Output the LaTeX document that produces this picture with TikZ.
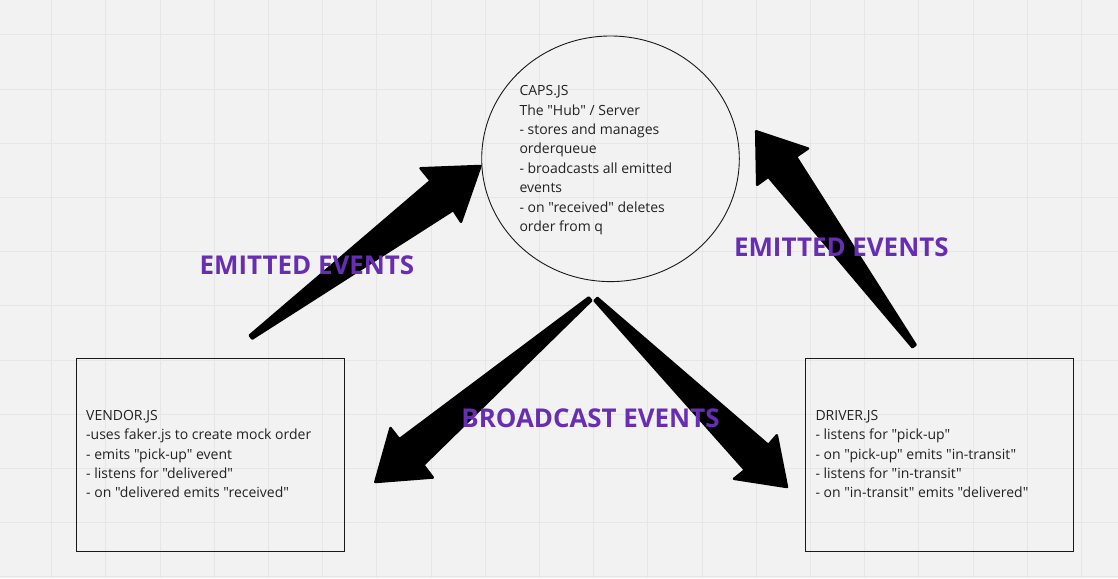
\documentclass[tikz,border=0pt]{standalone}
\usepackage{fontspec}
\setmainfont{Open Sans}[Ligatures=TeXOff]
\usetikzlibrary{shapes.geometric}
\definecolor{bgc}{HTML}{F2F2F2}
\definecolor{gridc}{HTML}{E6E6E6}
\definecolor{purp}{RGB}{103,46,179}
\definecolor{txt}{HTML}{222222}
\tikzset{
  body/.style={anchor=north west,inner sep=0pt,align=left,text=txt,font=\fontsize{14}{19.4}\selectfont},
  lbl/.style={anchor=base,inner sep=0pt,text=purp,font=\bfseries\fontsize{25.9}{30}\selectfont},
  fatarrow/.style={fill=black,draw=black,line width=2.5pt,line join=round},
  shapeline/.style={draw=black!90,line width=0.9pt}
}
\begin{document}
\begin{tikzpicture}[x=1pt,y=-1pt]
\useasboundingbox (0,0) rectangle (1118,578);
\fill[bgc] (0,0) rectangle (1118,578);
\foreach \i in {0,...,20} {\draw[gridc,line width=0.8pt] ({51.5+54.2*\i},0) -- ({51.5+54.2*\i},578);}
\foreach \j in {0,...,10} {\draw[gridc,line width=0.8pt] (0,{34.8+54.2*\j}) -- (1118,{34.8+54.2*\j});}
% shapes
\node[shapeline,ellipse,minimum width=257.6pt,minimum height=245.6pt,inner sep=0pt] (caps) at (610.5,158.8) {};
\node[shapeline,rectangle,minimum width=268pt,minimum height=192.7pt,inner sep=0pt] (vendor) at (210.3,454.7) {};
\node[shapeline,rectangle,minimum width=268.4pt,minimum height=192.7pt,inner sep=0pt] (driver) at (939.5,454.7) {};
% texts
\node[body] (capstext) at (519.3,85.3) {CAPS.JS\\The "Hub" / Server\\- stores and manages\\orderqueue\\- broadcasts all emitted\\events\\- on "received" deletes\\order from q};
\node[body] (vendortext) at (86,410) {VENDOR.JS\\-uses faker.js to create mock order\\- emits "pick-up" event\\- listens for "delivered"\\- on "delivered emits "received"};
\node[body] (drivertext) at (815.3,410) {DRIVER.JS\\- listens for "pick-up"\\- on "pick-up" emits "in-transit"\\- listens for "in-transit"\\- on "in-transit" emits "delivered"};
% arrows
\filldraw[fatarrow] (249.8,335.4) -- (430.7,180.7) -- (420.5,168.3) -- (480.5,166) -- (461,221.8) -- (453.3,210) -- (252.2,338.6) -- cycle;
\filldraw[fatarrow] (915.6,344.8) -- (796,156.7) -- (808,148.5) -- (756.2,131.3) -- (757.2,184.8) -- (768.3,176.7) -- (912.4,347.2) -- cycle;
\filldraw[fatarrow] (588.7,297.5) -- (399.3,439.3) -- (390.5,428) -- (375.3,482) -- (432.8,477.5) -- (423.3,465) -- (591.3,300.5) -- cycle;
\filldraw[fatarrow] (597.4,297.9) -- (768.3,445) -- (776.8,435.3) -- (787,487) -- (734,478.8) -- (745,470) -- (594.6,300.7) -- cycle;
% labels
\node[lbl] (emitl) at (307,274) {EMITTED EVENTS};
\node[lbl] (emitr) at (841.3,256.7) {EMITTED EVENTS};
\node[lbl] (bcast) at (590.5,427.7) {BROADCAST EVENTS};
\end{tikzpicture}
\end{document}
